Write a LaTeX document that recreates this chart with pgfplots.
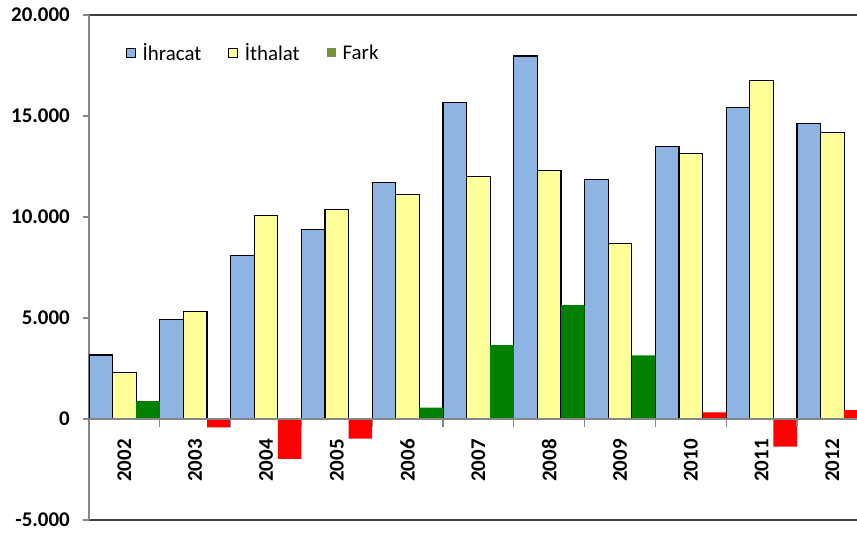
\documentclass[border=0pt]{standalone}
\usepackage{pgfplots}
\pgfplotsset{compat=1.18}
\usepackage{fontspec}
\setmainfont{Carlito}
\definecolor{ihr}{RGB}{142,180,227}
\definecolor{ith}{RGB}{255,255,153}
\definecolor{frk}{RGB}{0,128,0}
\definecolor{frkleg}{RGB}{119,147,60}
\definecolor{neg}{RGB}{255,0,0}
\definecolor{axgray}{RGB}{134,134,134}
\definecolor{axdark}{RGB}{64,64,64}
\begin{document}
\begin{tikzpicture}
\useasboundingbox (-89bp,-14bp) rectangle (768bp,520bp);
\begin{axis}[
  scale only axis, width=768bp, height=505bp,
  xmin=-0.5, xmax=10.347, ymin=-5000, ymax=20000,
  axis x line=box, axis y line=left,
  x axis line style={-, draw=axdark, line width=1.3bp},
  y axis line style={-, draw=axgray, line width=1.3bp},
  xtick={0,...,10},
  xticklabels={2002,2003,2004,2005,2006,2007,2008,2009,2010,2011,2012},
  xtick style={draw=none},
  xticklabel style={rotate=90, anchor=east, inner sep=0pt, font=\bfseries\fontsize{21}{22}\selectfont},
  xticklabel shift=-87bp,
  ytick={-5000,0,5000,10000,15000,20000},
  yticklabels={-5.000,0,5.000,10.000,15.000,20.000},
  yticklabel style={inner sep=0pt, xshift=-13bp, font=\bfseries\fontsize{21}{22}\selectfont},
  tick align=outside, major tick length=6bp,
  ytick style={draw=axgray, line width=1.3bp},
  clip=true,
  legend columns=3,
  legend style={draw=none, fill=none, at={(rel axis cs:0.0482,0.9248)}, anchor=west, inner sep=0pt,
    font=\fontsize{21}{22}\selectfont,
    /tikz/every even column/.append style={column sep=25bp}},
  legend image code/.code={\path[draw=none, fill=none] (0bp,0bp) rectangle (14bp,0.1bp); \draw[#1, line width=0.9bp] (0bp,-4.5bp) rectangle (9bp,4.5bp);},
]
\addplot[ybar, bar width=0.3333, bar shift=-0.3333, fill=ihr, draw=black, line width=1.2bp]
  coordinates {(0,3170) (1,4910) (2,8110) (3,9400) (4,11690) (5,15670) (6,17970) (7,11860) (8,13500) (9,15420) (10,14640)};
\addlegendentry{İhracat}
\addplot[ybar, bar width=0.3333, bar shift=0, fill=ith, draw=black, line width=1.2bp]
  coordinates {(0,2290) (1,5320) (2,10075) (3,10360) (4,11130) (5,11990) (6,12320) (7,8700) (8,13140) (9,16760) (10,14170)};
\addlegendentry{İthalat}
\addplot[ybar, bar width=0.3333, bar shift=0.3333, fill=frk, draw=none,
  legend image code/.code={\path[draw=none, fill=none] (0bp,0bp) rectangle (14bp,0.1bp); \fill[frkleg] (0bp,-4.5bp) rectangle (9bp,4.5bp);}]
  coordinates {(0,880) (4,560) (5,3660) (6,5640) (7,3150)};
\addlegendentry{Fark}
\addplot[ybar, bar width=0.3333, bar shift=0.3333, fill=neg, draw=none, forget plot]
  coordinates {(1,-420) (2,-1970) (3,-970) (8,330) (9,-1370) (10,440)};
\addplot[axgray, line width=1.5bp, forget plot] coordinates {(-0.5,0) (10.347,0)};
\addplot[axgray, line width=1.3bp, ycomb, no marks, forget plot]
  coordinates {(0.5,-380) (1.5,-380) (2.5,-380) (3.5,-380) (4.5,-380) (5.5,-380) (6.5,-380) (7.5,-380) (8.5,-380) (9.5,-380)};
\end{axis}
\end{tikzpicture}
\end{document}
